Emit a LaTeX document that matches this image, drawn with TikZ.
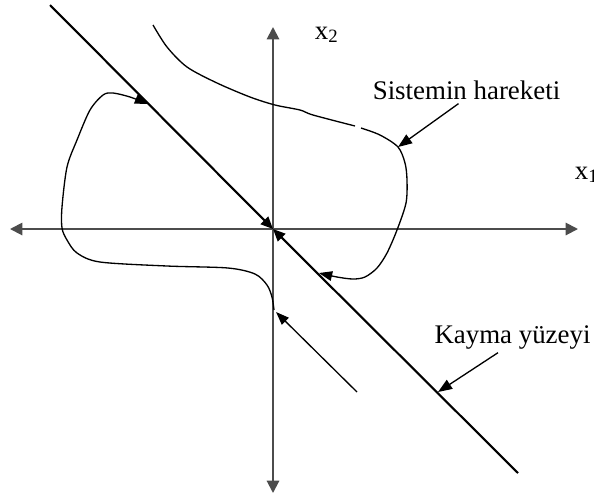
\documentclass[tikz,border=0pt]{standalone}
\usepackage{fontspec}
\setmainfont{Liberation Serif}
\usetikzlibrary{arrows.meta,positioning}

\begin{document}
\begin{tikzpicture}[
            x=0.02cm, y=-0.02cm, % 像素坐标
            axis/.style={draw=black!70, line width=1.1pt, {Triangle[length=7pt,width=7pt]}-{Triangle[length=7pt,width=7pt]}},
            surface/.style={line width=1.2pt, -{Triangle[length=7pt,width=6pt]}},
            traj/.style={line width=0.75pt},
            trajarrow/.style={traj, -{Triangle[length=7.5pt,width=5.5pt]}},
            txt/.style={font=\fontsize{15.3}{18}\selectfont, inner sep=2pt},
            pointer/.style={line width=0.75pt, -{Triangle[length=8pt,width=6pt]}}
        ]
        \useasboundingbox (0,0) rectangle (594,495);

        % 坐标轴
        \coordinate (O) at (273,229);
        \coordinate (xl) at (10,229);
        \coordinate (xr) at (578,229);
        \coordinate (yt) at (273,27);
        \coordinate (yb) at (273,493);
        \draw[axis] (xl) -- (xr);
        \draw[axis] (yb) -- (yt);
        \node[txt, anchor=base west] (xone) at (571,179) {x\textsubscript{1}};
        \node[txt, anchor=base west] (xtwo) at (311,39) {x\textsubscript{2}};

        % 滑模面
        \coordinate (s1) at (50,5);
        \coordinate (s2) at (518,473);
        \draw[surface] (s1) -- (O);
        \draw[surface] (s2) -- (O);

        % 系统轨迹 (上)
        \draw[traj] plot[smooth] coordinates {(153,25) (167,47) (187,67) (217,83) (250,97) (275,105) (300,110) (313,115) (355,126)};
        \draw[trajarrow] plot[smooth] coordinates {(361,128) (380,135) (398,147) (405,163) (407,180) (406,203) (397,230) (387,253) (377,268) (365,277) (353,279) (337,277) (319,273)};

        % 系统轨迹 (下)
        \coordinate (t0) at (357,392);
        \coordinate (t1) at (276,312);
        \draw[trajarrow] (t0) -- (t1);
        \draw[trajarrow] plot[smooth] coordinates {(274,310) (272,297) (267,285) (255,274) (228,268) (167,266) (100,262) (77,253) (67,240) (62,228) (62,207) (67,167) (77,140) (90,110) (103,95) (113,93) (130,97) (148,104)};

        % 注释
        \node[txt, anchor=base] (sist) at (466.5,99.5) {Sistemin hareketi};
        \node[txt, anchor=base] (kayma) at (512.5,343) {Kayma yüzeyi};
        \coordinate (hitA) at (398,147);
        \coordinate (hitB) at (438,392);
        \draw[pointer] ([xshift=-0.16cm]sist.south) -- (hitA);
        \draw[pointer] ([xshift=-0.29cm]kayma.south) -- (hitB);

\end{tikzpicture}
\end{document}
